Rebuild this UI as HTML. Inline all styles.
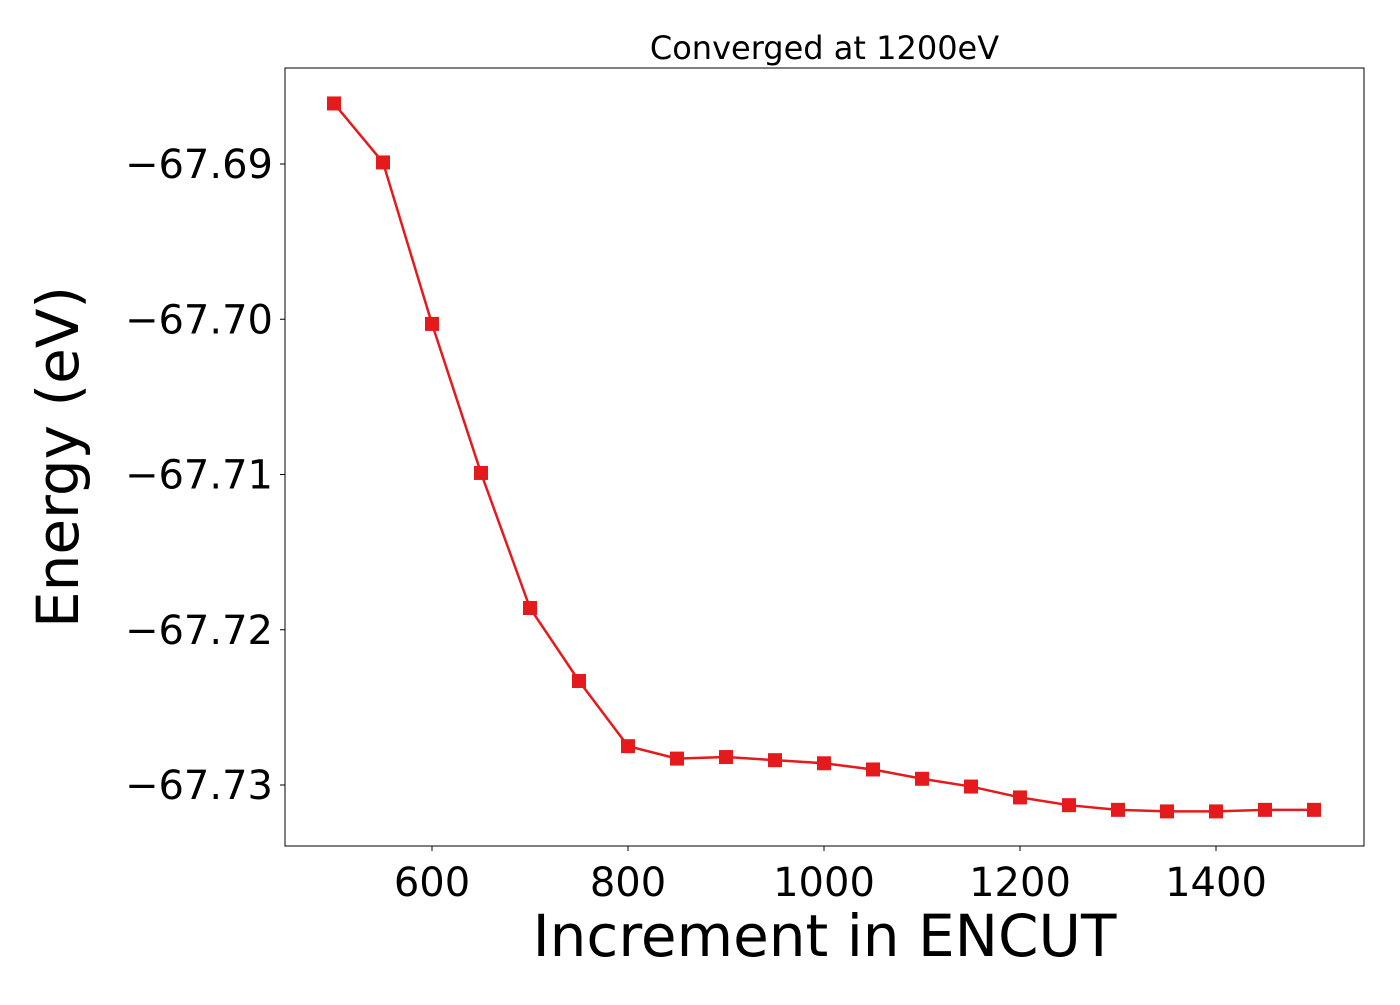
<!DOCTYPE html>
<html><head><meta charset="utf-8"><style>
body{margin:0;background:#fff;}
svg text{font-family:"DejaVu Sans","Liberation Sans",sans-serif;fill:#000;}
</style></head><body>
<svg width="1400" height="1000" xmlns="http://www.w3.org/2000/svg">
<rect x="0" y="0" width="1400" height="1000" fill="#fff"/>
<g id="plot"></g>
</svg>
<script>
const xValues=[500,550,600,650,700,750,800,850,900,950,1000,1050,1100,1150,1200,1250,1300,1350,1400,1450,1500];
const energies=[-67.6861,-67.6899,-67.7003,-67.7099,-67.7186,-67.7233,-67.7275,-67.7283,-67.7282,-67.7284,-67.7286,-67.7290,-67.7296,-67.7301,-67.7308,-67.7313,-67.7316,-67.7317,-67.7317,-67.7316,-67.7316];
const xTicks=[600,800,1000,1200,1400];
const yTicks=[-67.69,-67.70,-67.71,-67.72,-67.73];
const yTickLabels=["−67.69","−67.70","−67.71","−67.72","−67.73"];
const NS="http://www.w3.org/2000/svg";
const L=285,R=1364,T=68,B=846;
function xs(v){return 432+(v-600)*0.98;}
function ys(v){return 164+(-67.69-v)*15525;}
const g=document.getElementById('plot');
function mk(tag,attrs,parent){const e=document.createElementNS(NS,tag);for(const k in attrs)e.setAttribute(k,attrs[k]);(parent||g).appendChild(e);return e;}
// line
let d=xValues.map((x,i)=>(i?'L':'M')+xs(x)+','+ys(energies[i])).join(' ');
const line=mk('path',{d:d,fill:'none',stroke:'#e41a1c','stroke-width':2.5});


xValues.forEach((x,i)=>{
  const m=mk('rect',{x:xs(x)-7,y:ys(energies[i])-7,width:14,height:14,fill:'#e41a1c'});
  
  
});
// frame
const fr=mk('rect',{x:L,y:T,width:R-L,height:B-T,fill:'none',stroke:'#000','stroke-width':1});


xTicks.forEach(v=>{
  const t=mk('line',{x1:xs(v),x2:xs(v),y1:B,y2:B+5,stroke:'#000'});
  
  
  const tx=mk('text',{x:xs(v),y:B+50,'text-anchor':'middle','font-size':40});
  tx.textContent=v;
  
  
});
yTicks.forEach((v,i)=>{
  const t=mk('line',{x1:L-5,x2:L,y1:ys(v),y2:ys(v),stroke:'#000'});
  
  
  const tx=mk('text',{x:L-12,y:ys(v)+14,'text-anchor':'end','font-size':40});
  tx.textContent=yTickLabels[i];
  
  
});
const xt=mk('text',{x:(L+R)/2,y:956,'text-anchor':'middle','font-size':58});
xt.textContent='Increment in ENCUT';


const yt=mk('text',{x:0,y:0,'text-anchor':'middle','font-size':58,transform:'translate(78,457) rotate(-90)'});
yt.textContent='Energy (eV)';


const ti=mk('text',{x:(L+R)/2,y:59,'text-anchor':'middle','font-size':32});
ti.textContent='Converged at 1200eV';


</script>
</body></html>
